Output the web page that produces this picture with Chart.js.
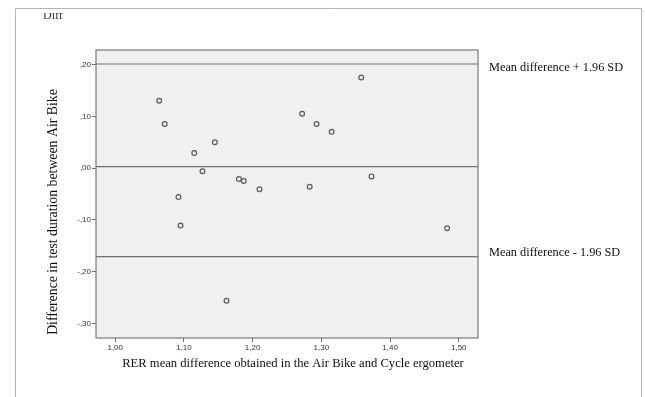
<!DOCTYPE html>
<html>
<head>
<meta charset="utf-8">
<script src="https://cdn.jsdelivr.net/npm/chart.js@4.4.1/dist/chart.umd.min.js"></script>
<style>
  html, body { margin: 0; padding: 0; background: #fff; }
  #wrap { position: relative; width: 645px; height: 397px; }
</style>
</head>
<body>
<div id="wrap"><canvas id="chart" width="645" height="397"></canvas></div>
<script>
// RER mean difference (x) vs difference in test duration (y)
const rerMean = [1.064, 1.072, 1.115, 1.145, 1.127, 1.180, 1.187, 1.210, 1.272,
                 1.293, 1.315, 1.358, 1.283, 1.373, 1.092, 1.095, 1.483, 1.162];
const durationDiff = [0.130, 0.085, 0.029, 0.050, -0.006, -0.021, -0.025, -0.041, 0.105,
                      0.085, 0.070, 0.175, -0.036, -0.016, -0.056, -0.111, -0.116, -0.256];

// mean difference and limits of agreement
const upperLimit = 0.201;
const meanDiff = 0.003;
const lowerLimit = -0.171;

const xTickValues = [1.0, 1.1, 1.2, 1.3, 1.4, 1.5];
const xTickLabels = ["1,00", "1,10", "1,20", "1,30", "1,40", "1,50"];
const yTickValues = [-0.3, -0.2, -0.1, 0.0, 0.1, 0.2];
const yTickLabels = ["-,30", "-,20", "-,10", ",00", ",10", ",20"];

const xRange = [0.972, 1.528];
const yRange = [-0.328, 0.228];

const serif = '"Liberation Serif", "Times New Roman", serif';
const sans = '"Liberation Sans", Arial, sans-serif';

const decorPlugin = {
  id: "decor",
  beforeDraw(chart) {
    const { ctx, chartArea: a } = chart;
    ctx.save();
    // outer frame (no bottom edge, runs off the image)
    ctx.strokeStyle = "#b4b4b4";
    ctx.lineWidth = 1;
    ctx.beginPath();
    ctx.moveTo(15.5, 397);
    ctx.lineTo(15.5, 8.5);
    ctx.lineTo(641.5, 8.5);
    ctx.lineTo(641.5, 397);
    ctx.stroke();
    // plot background
    ctx.fillStyle = "#f0f0f0";
    ctx.fillRect(a.left, a.top, a.right - a.left, a.bottom - a.top);
    // clipped "Diff" label at the top
    ctx.save();
    ctx.beginPath();
    ctx.rect(0, 13, 200, 20);
    ctx.clip();
    ctx.fillStyle = "#333";
    ctx.font = "12px " + serif;
    ctx.textBaseline = "alphabetic";
    ctx.fillText("Diff", 43, 19);
    ctx.restore();
    ctx.restore();
  },
  beforeDatasetsDraw(chart) {
    const { ctx, chartArea: a, scales } = chart;
    ctx.save();
    ctx.strokeStyle = "#6e6e6e";
    ctx.lineWidth = 1.2;
    [upperLimit, meanDiff, lowerLimit].forEach((v) => {
      const y = scales.y.getPixelForValue(v);
      ctx.beginPath();
      ctx.moveTo(a.left, y);
      ctx.lineTo(a.right, y);
      ctx.stroke();
    });
    ctx.restore();
  },
  afterDraw(chart) {
    const { ctx, chartArea: a, scales } = chart;
    ctx.save();
    ctx.strokeStyle = "#7a7a7a";
    ctx.lineWidth = 1.2;
    ctx.strokeRect(a.left, a.top, a.right - a.left, a.bottom - a.top);

    ctx.fillStyle = "#111";
    ctx.font = "12.3px " + serif;
    ctx.textBaseline = "middle";
    ctx.textAlign = "left";
    ctx.fillText("Mean difference + 1.96 SD", a.right + 11, scales.y.getPixelForValue(upperLimit) + 4);
    ctx.fillText("Mean difference - 1.96 SD", a.right + 11, scales.y.getPixelForValue(lowerLimit) - 4);

    ctx.textAlign = "center";
    ctx.font = "12.6px " + serif;
    ctx.fillText("RER mean difference obtained in the Air Bike and Cycle ergometer", 293, 364);

    ctx.font = "13.8px " + serif;
    ctx.translate(53, 212);
    ctx.rotate(-Math.PI / 2);
    ctx.fillText("Difference in test duration between Air Bike", 0, 0);
    ctx.restore();
  },
};

new Chart(document.getElementById("chart").getContext("2d"), {
  type: "scatter",
  data: {
    datasets: [
      {
        data: rerMean.map((x, i) => ({ x, y: durationDiff[i] })),
        pointRadius: 2.4,
        pointHoverRadius: 2.4,
        pointBorderWidth: 1.2,
        borderColor: "#5a5a5a",
        backgroundColor: "rgba(0,0,0,0)",
      },
    ],
  },
  options: {
    responsive: false,
    animation: false,
    events: [],
    layout: { padding: { top: 50, right: 167, left: 0, bottom: 0 } },
    plugins: { legend: { display: false }, tooltip: { enabled: false } },
    scales: {
      x: {
        type: "linear",
        min: xRange[0],
        max: xRange[1],
        afterBuildTicks: (s) => { s.ticks = xTickValues.map((v) => ({ value: v })); },
        afterFit: (s) => { s.height = 59; },
        grid: { drawOnChartArea: false, drawTicks: true, tickLength: 4, color: "#6e6e6e" },
        border: { display: false },
        ticks: {
          color: "#333",
          padding: 1,
          maxRotation: 0,
          font: { family: sans, size: 8 },
          callback: (v, i) => xTickLabels[i],
        },
      },
      y: {
        type: "linear",
        min: yRange[0],
        max: yRange[1],
        afterBuildTicks: (s) => { s.ticks = yTickValues.map((v) => ({ value: v })); },
        afterFit: (s) => { s.width = 96; },
        grid: { drawOnChartArea: false, drawTicks: true, tickLength: 4, color: "#6e6e6e" },
        border: { display: false },
        ticks: {
          color: "#333",
          padding: 1,
          font: { family: sans, size: 8 },
          callback: (v, i) => yTickLabels[i],
        },
      },
    },
  },
  plugins: [decorPlugin],
});
</script>
</body>
</html>
